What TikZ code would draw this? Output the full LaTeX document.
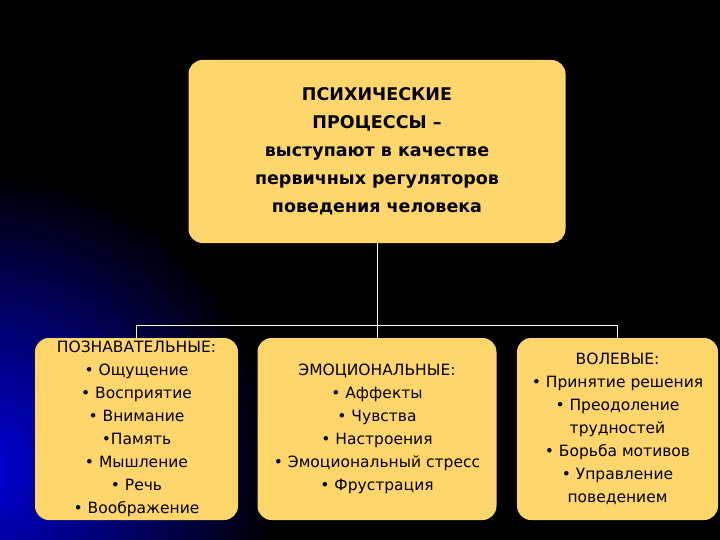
\documentclass[tikz,border=0pt]{standalone}
\usepackage{fontspec}
\setmainfont{DejaVu Sans}
\begin{document}
\begin{tikzpicture}[x=1pt,y=-1pt,
  box/.style={draw=none,fill=boxc,rounded corners=14pt,align=center,inner sep=0pt},
  conn/.style={draw=white,line width=0.8pt}]
\definecolor{boxc}{HTML}{FFD66B}
\fill[black] (0,0) rectangle (720,540);
\begin{scope}
\clip (0,0) rectangle (720,540);
\shade[inner color=blue!85!black, outer color=black] (-20,470) circle (300);
\end{scope}
\useasboundingbox (0,0) rectangle (720,540);
\node[box,minimum width=377pt,minimum height=183pt,font=\fontsize{17.5}{28}\selectfont\bfseries] (top) at (377,151.5)
 {ПСИХИЧЕСКИЕ\\ПРОЦЕССЫ –\\выступают в качестве\\первичных регуляторов\\поведения человека};
\node[box,minimum width=203pt,minimum height=182pt,font=\fontsize{15.5}{23}\selectfont] (l) at (136.5,429)
 {ПОЗНАВАТЕЛЬНЫЕ:\\• Ощущение\\• Восприятие\\• Внимание\\•Память\\• Мышление\\• Речь\\• Воображение};
\node[box,minimum width=239pt,minimum height=182pt,font=\fontsize{15.5}{23}\selectfont] (m) at (377,429)
 {ЭМОЦИОНАЛЬНЫЕ:\\• Аффекты\\• Чувства\\• Настроения\\• Эмоциональный стресс\\• Фрустрация};
\node[box,minimum width=201pt,minimum height=182pt,font=\fontsize{15.5}{23}\selectfont] (r) at (617.5,429)
 {ВОЛЕВЫЕ:\\• Принятие решения\\• Преодоление\\трудностей\\• Борьба мотивов\\• Управление\\поведением};
\coordinate (j) at (377,325);
\draw[conn] (top.south) -- (j);
\draw[conn] (l.north) -- (136.5,325) -- (617.5,325) -- (r.north);
\draw[conn] (j) -- (m.north);
\end{tikzpicture}
\end{document}
